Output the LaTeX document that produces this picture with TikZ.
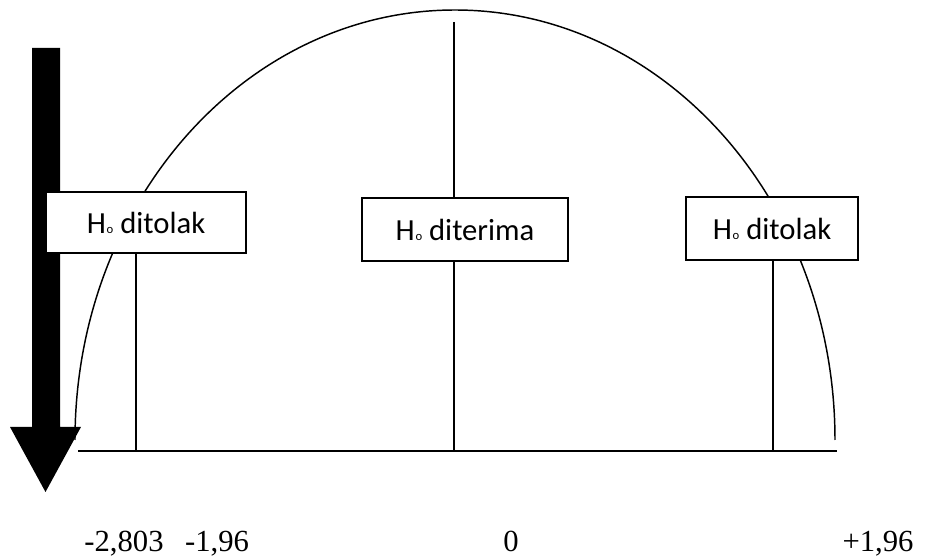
\documentclass[tikz,border=0pt]{standalone}
\usepackage{fontspec}
\setmainfont{Liberation Serif}
\newfontfamily\boxfont{Carlito}
\newcommand\Hnull{H\kern0.6pt{\fontsize{9.5}{9.5}\selectfont o}}
\begin{document}
\begin{tikzpicture}[x=0.75pt,y=-0.75pt,
  line/.style={line width=1.1pt},
  hbox/.style={draw,line width=1.1pt,fill=white,inner sep=0pt,font=\boxfont\fontsize{23}{27}\selectfont},
  val/.style={anchor=base,font=\fontsize{23}{26}\selectfont,inner sep=0pt}]
\useasboundingbox (0,0) rectangle (926,559);
% big arrow
\fill[black] (32,48) -- (60,48) -- (60,427) -- (81,427) -- (45.5,492) -- (10,427) -- (32,427) -- cycle;
% curve
\coordinate (cl) at (75,440);
\draw[line] (cl) arc[start angle=180,end angle=0,x radius=285pt,y radius=322.5pt] coordinate (cr);
% baseline
\coordinate (b0) at (78,451);
\coordinate (b1) at (837,451);
\draw[line] (b0) -- (b1);
% middle line
\coordinate (mtop) at (454,22);
\coordinate (mbase) at (454,451);
\draw[line] (mtop) -- (mbase);
\coordinate (lbase) at (136,451);
\coordinate (rbase) at (773,451);
% boxes
\node[hbox,minimum width=150pt,minimum height=45.75pt] (lbox) at (146,222.5) {\Hnull{} ditolak};
\node[hbox,minimum width=154.5pt,minimum height=47.25pt] (mbox) at (465,229.5) {\Hnull{} diterima};
\node[hbox,minimum width=129pt,minimum height=47.25pt] (rbox) at (772,228.5) {\Hnull{} ditolak};
\draw[line] (lbox.south -| lbase) -- (lbase);
\draw[line] (rbox.south -| rbase) -- (rbase);
% values
\node[val] (v1) at (124,552) {-2,803};
\node[val] (v2) at (217,552) {-1,96};
\node[val] (v3) at (511,552) {0};
\node[val] (v4) at (878,552) {+1,96};
\end{tikzpicture}
\end{document}
